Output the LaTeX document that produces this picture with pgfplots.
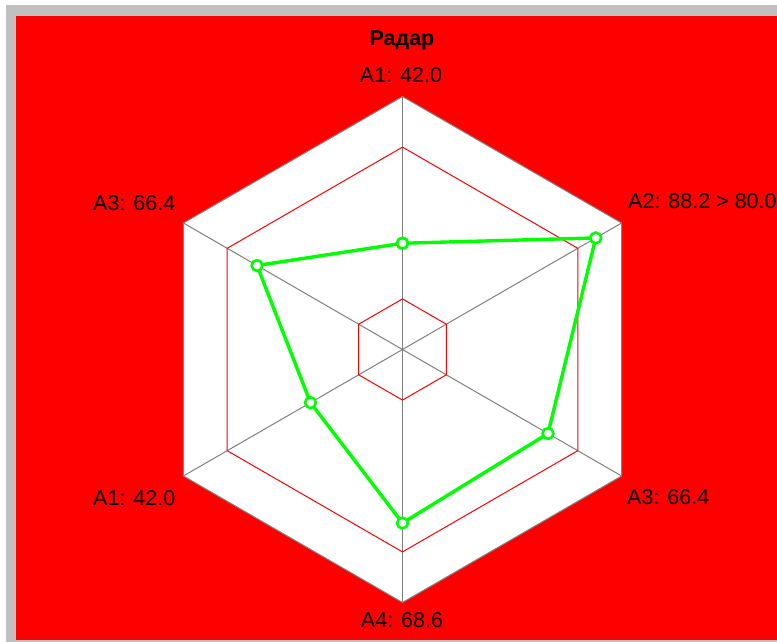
\documentclass[border=0pt]{standalone}
\usepackage{fontspec}
\setmainfont{Liberation Sans}
\usepackage{pgfplots}
\pgfplotsset{compat=1.18}

\definecolor{bgred}{RGB}{255,0,0}
\definecolor{frame}{RGB}{192,192,192}
\definecolor{spoke}{RGB}{128,128,128}
\definecolor{series}{RGB}{0,255,0}

\begin{document}
\begin{tikzpicture}[x=1pt,y=1pt]
  \fontsize{21.5}{25}\selectfont
  % window frame and red panel
  \fill[white] (0,0) rectangle (777,-642);
  \fill[frame] (6,-5) rectangle (777,-642);
  \fill[bgred] (16,-16) rectangle (777,-640);

  \begin{axis}[
    at={(402.5pt,-349.5pt)}, anchor=center,
    x=2.53pt, y=2.53pt,
    xmin=-100, xmax=100, ymin=-100, ymax=100,
    hide axis, clip=false,
    data cs=polar,
  ]
    % outer hexagon
    \addplot[fill=white, draw=spoke, line width=1pt] coordinates {
      (90,100) (30,100) (-30,100) (-90,100) (-150,100) (150,100)
    } -- cycle;
    % spokes
    \addplot[spoke, line width=1pt] coordinates {(90,100) (270,100)};
    \addplot[spoke, line width=1pt] coordinates {(30,100) (210,100)};
    \addplot[spoke, line width=1pt] coordinates {(150,100) (330,100)};
    % limit lines at 20 and 80
    \addplot[bgred, line width=1pt] coordinates {
      (90,80) (30,80) (-30,80) (-90,80) (-150,80) (150,80)
    } -- cycle;
    \addplot[bgred, line width=1pt] coordinates {
      (90,20) (30,20) (-30,20) (-90,20) (-150,20) (150,20)
    } -- cycle;
    % data
    \addplot[series, line width=3.4pt, mark=*, mark size=5.4pt,
      mark options={fill=white, draw=series, line width=2.6pt}] coordinates {
      (90,42.0) (30,88.2) (-30,66.4) (-90,68.6) (-150,42.0) (150,66.4) (90,42.0)
    };
  \end{axis}

  \node[anchor=base, font=\bfseries] at (402,-46) {Радар};
  \node[anchor=base, inner sep=0] at (401,-83) {A1: 42.0};
  \node[anchor=base west, inner sep=0] at (628,-208) {A2: 88.2 > 80.0};
  \node[anchor=base west, inner sep=0] at (627,-504) {A3: 66.4};
  \node[anchor=base, inner sep=0] at (402,-627) {A4: 68.6};
  \node[anchor=base west, inner sep=0] at (93,-505) {A1: 42.0};
  \node[anchor=base west, inner sep=0] at (93,-210) {A3: 66.4};

  \pgfresetboundingbox
  \useasboundingbox (0,0) rectangle (777,-642);
\end{tikzpicture}
\end{document}
